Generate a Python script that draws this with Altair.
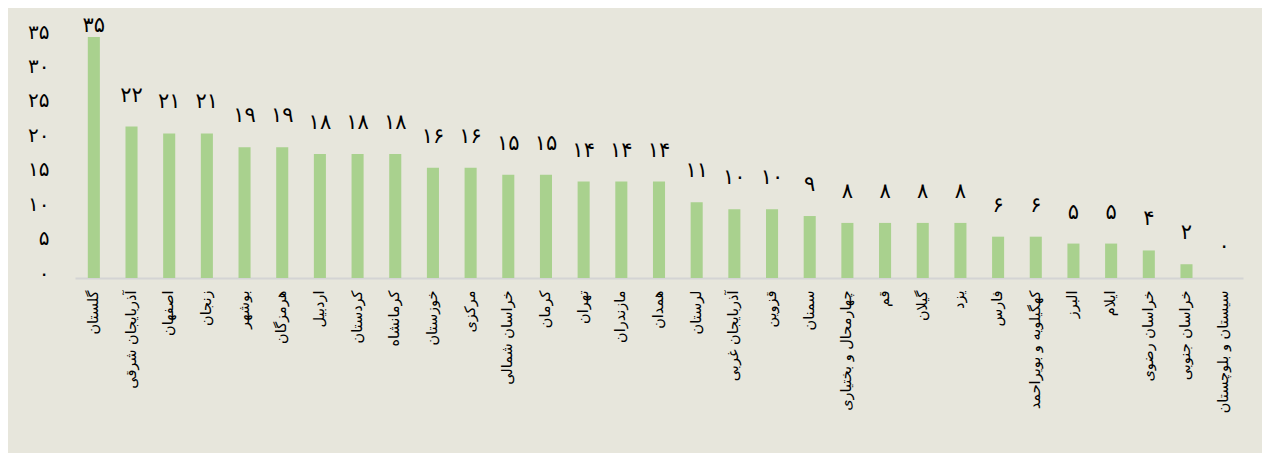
import altair as alt
import pandas as pd

provinces = [
    "گلستان", "آذربایجان شرقی", "اصفهان", "زنجان", "بوشهر", "هرمزگان",
    "اردبیل", "کردستان", "کرمانشاه", "خوزستان", "مرکزی", "خراسان شمالی",
    "کرمان", "تهران", "مازندران", "همدان", "لرستان", "آذربایجان غربی",
    "قزوین", "سمنان", "چهارمحال و بختیاری", "قم", "گیلان", "یزد", "فارس",
    "کهگیلویه و بویراحمد", "البرز", "ایلام", "خراسان رضوی", "خراسان جنوبی",
    "سیستان و بلوچستان",
]
values = [35, 22, 21, 21, 19, 19, 18, 18, 18, 16, 16, 15, 15, 14, 14, 14,
          11, 10, 10, 9, 8, 8, 8, 8, 6, 6, 5, 5, 4, 2, 0]
y_ticks = [0, 5, 10, 15, 20, 25, 30, 35]
persian_digits = "۰۱۲۳۴۵۶۷۸۹"

trans = str.maketrans("0123456789", persian_digits)
df = pd.DataFrame({
    "province": provinces,
    "value": values,
    "label": [str(v).translate(trans) for v in values],
})

# Vega expression converting axis labels to Persian digits
expr = "datum.label"
for i, d in enumerate(persian_digits):
    expr = f"replace({expr}, '{i}', '{d}')"

FONT = "DejaVu Sans"
BG = "#E7E6DC"

yscale = alt.Scale(domain=[0, 35], nice=False, clamp=True)
y_axis = alt.Axis(
    title=None, values=y_ticks, grid=False, ticks=False, domain=False,
    labelFontSize=20, labelColor="#000000", labelFont=FONT,
    labelPadding=26, labelExpr=expr, labelOverlap=False, labelOffset=-5,
)

x = alt.X(
    "province:N",
    sort=provinces,
    scale=alt.Scale(paddingInner=0.68, paddingOuter=0.34),
    axis=alt.Axis(
        title=None, labelAngle=-90, labelFontSize=14.5, labelColor="#000000",
        labelFont=FONT, ticks=False, domainColor="#D4D4D4", domainWidth=2,
        labelPadding=12, labelLimit=300,
    ),
)

bars = alt.Chart(df).mark_bar(color="#A9D18E").encode(
    x=x,
    y=alt.Y("value:Q", scale=yscale, axis=y_axis),
)

# label position: a fixed display offset above the bar top, kept inside the plot
text = alt.Chart(df).transform_calculate(
    label_y="datum.value + 2.9"
).mark_text(
    dy=-5, baseline="alphabetic", fontSize=21, font=FONT, color="#000000"
).encode(
    x=alt.X("province:N", sort=provinces),
    y=alt.Y("label_y:Q", scale=yscale, axis=y_axis),
    text="label:N",
)

chart = (bars + text).properties(
    width=1168, height=241,
    background=BG,
    padding={"left": 67, "top": 29, "right": 19, "bottom": 175},
    autosize=alt.AutoSizeParams(type="none"),
).configure_view(stroke=None)

chart.save("out.html", embed_options={"renderer": "svg", "actions": False})
